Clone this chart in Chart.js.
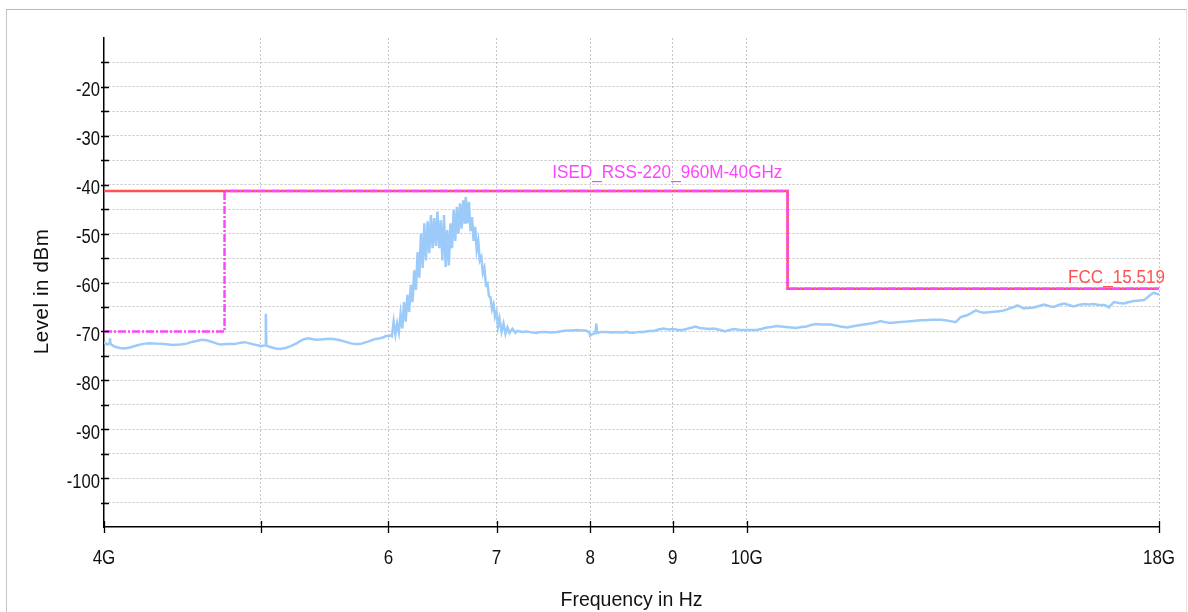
<!DOCTYPE html>
<html>
<head>
<meta charset="utf-8">
<script src="https://cdn.jsdelivr.net/npm/chart.js@4.4.1/dist/chart.umd.min.js"></script>
<style>
  html, body { margin: 0; padding: 0; background: #fff; overflow: hidden; }
  #frame { position: absolute; left: 6px; top: 9px; width: 1179px; height: 700px;
           border-top: 1px solid #b8b8b8; border-left: 1px solid #c4c4c4; border-right: 1px solid #e4e4e4; }
  #wrap { position: absolute; left: 0; top: 0; width: 1188px; height: 630px; }
</style>
</head>
<body>
<div id="frame"></div>
<div id="wrap"><canvas id="spectrum" width="1188" height="630"></canvas></div>
<script>
// axis ticks
const freqTicks = [4, 5, 6, 7, 8, 9, 10, 18];
const freqTickLabels = ['4G', '', '6', '7', '8', '9', '10G', '18G'];
const levelLabelValues = [-100, -90, -80, -70, -60, -50, -40, -30, -20];
const xTitle = 'Frequency in Hz';
const yTitle = 'Level in dBm';

// limit lines (GHz, dBm)
const fccLimit = [[4, -41.3], [10.6, -41.3], [10.6, -61.3], [18, -61.3]];
const isedLimit = [[4, -70], [4.75, -70], [4.75, -41.3], [10.6, -41.3], [10.6, -61.3], [18, -61.3]];
const limitNames = ['ISED_RSS-220_960M-40GHz', 'FCC_15.519'];
const limitNameFreqs = [8.93, 18];
const limitNameLevels = [-41.3, -61.3];

// measured trace, 4 - 6 GHz
const traceLow = [
  [4.00,-72.2],[4.01,-72.5],[4.02,-72.7],[4.03,-72.4],[4.034,-71.4],[4.038,-72.6],[4.06,-73.1],[4.09,-73.4],
  [4.12,-73.5],[4.15,-73.3],[4.18,-73.0],[4.21,-72.7],[4.24,-72.5],[4.27,-72.4],[4.31,-72.5],[4.36,-72.6],
  [4.41,-72.8],[4.46,-72.7],[4.50,-72.5],[4.54,-72.1],[4.60,-71.7],[4.63,-71.8],[4.66,-72.1],[4.70,-72.5],
  [4.72,-72.7],[4.77,-72.6],[4.82,-72.6],[4.86,-72.3],[4.89,-72.2],[4.93,-72.5],[4.97,-72.8],[5.00,-73.0],
  [5.035,-72.9],[5.038,-66.4],[5.042,-72.9],[5.07,-73.2],[5.11,-73.5],[5.14,-73.6],[5.18,-73.4],[5.22,-73.0],
  [5.26,-72.5],[5.29,-72.0],[5.32,-71.6],[5.35,-71.4],[5.39,-71.6],[5.42,-71.7],[5.47,-71.6],[5.52,-71.5],
  [5.56,-71.6],[5.60,-71.8],[5.64,-72.1],[5.68,-72.4],[5.72,-72.6],[5.76,-72.6],[5.80,-72.3],[5.84,-72.0],
  [5.88,-71.6],[5.93,-71.4],[5.96,-71.2],[5.98,-70.9]
];

// measured trace, 6 - 7.2 GHz (emission)
const tracePeak = [
  [6.000,-71.0],[6.015,-70.8],[6.030,-71.0],[6.045,-68.0],[6.060,-70.6],[6.075,-68.4],[6.090,-70.2],
  [6.105,-66.4],[6.120,-69.4],[6.135,-64.0],[6.150,-68.0],[6.165,-62.5],[6.180,-66.0],[6.195,-60.5],
  [6.210,-64.0],[6.225,-57.5],[6.240,-61.5],[6.255,-53.8],[6.270,-59.0],[6.285,-50.0],[6.300,-57.0],
  [6.315,-47.9],[6.330,-55.5],[6.345,-47.5],[6.360,-54.0],[6.375,-46.2],[6.390,-53.0],[6.405,-46.8],
  [6.420,-52.5],[6.435,-45.5],[6.450,-53.0],[6.465,-47.3],[6.480,-55.5],[6.495,-46.2],[6.510,-56.8],
  [6.525,-49.3],[6.540,-56.5],[6.555,-47.9],[6.570,-53.0],[6.585,-45.2],[6.600,-51.5],[6.615,-44.5],
  [6.630,-50.0],[6.645,-43.8],[6.660,-49.0],[6.675,-43.2],[6.690,-48.0],[6.700,-42.5],[6.715,-47.9],
  [6.730,-43.5],[6.745,-49.5],[6.760,-46.6],[6.775,-51.5],[6.790,-48.6],[6.805,-53.4],[6.820,-51.5],
  [6.835,-55.5],[6.850,-54.8],[6.865,-58.0],[6.880,-57.0],[6.895,-60.5],[6.910,-60.2],[6.925,-62.8],
  [6.940,-63.0],[6.955,-65.5],[6.970,-64.5],[6.985,-67.0],[7.000,-66.0],[7.015,-69.1],[7.030,-67.4],
  [7.050,-70.1],[7.070,-68.4],[7.090,-70.5],[7.110,-69.2],[7.130,-70.3],[7.160,-69.5],[7.190,-70.3]
];

// measured trace, 7.2 - 18 GHz
const traceHigh = [
  [7.21,-69.9],[7.26,-70.1],[7.31,-70.0],[7.36,-70.2],[7.41,-70.3],[7.46,-70.1],[7.51,-70.1],[7.57,-70.2],
  [7.63,-70.1],[7.69,-69.9],[7.74,-69.8],[7.80,-69.8],[7.85,-69.7],[7.90,-69.8],[7.95,-69.8],[7.99,-70.2],
  [8.00,-70.9],[8.02,-70.6],[8.06,-70.3],[8.07,-68.4],[8.08,-70.3],[8.13,-70.1],[8.19,-70.1],[8.25,-70.2],
  [8.31,-70.1],[8.37,-70.2],[8.43,-70.1],[8.47,-70.3],[8.51,-70.3],[8.57,-70.1],[8.63,-70.1],[8.70,-69.9],
  [8.76,-69.9],[8.82,-69.6],[8.88,-69.4],[8.94,-69.6],[9.00,-69.5],[9.07,-69.7],[9.13,-69.7],[9.20,-69.4],
  [9.30,-69.0],[9.35,-69.3],[9.41,-69.4],[9.48,-69.5],[9.54,-69.4],[9.63,-69.7],[9.70,-70.0],[9.73,-69.8],
  [9.82,-69.5],[9.91,-69.7],[10.0,-69.7],[10.07,-69.7],[10.14,-69.7],[10.21,-69.5],[10.29,-69.2],[10.36,-69.1],
  [10.43,-68.9],[10.50,-69.0],[10.58,-69.1],[10.65,-69.2],[10.73,-69.3],[10.81,-69.1],[10.89,-69.0],[10.96,-68.7],
  [11.04,-68.5],[11.11,-68.6],[11.19,-68.6],[11.27,-68.6],[11.35,-68.8],[11.43,-69.0],[11.54,-69.2],[11.62,-69.0],
  [11.71,-68.8],[11.82,-68.6],[11.93,-68.4],[12.02,-68.2],[12.10,-67.9],[12.18,-68.1],[12.27,-68.3],[12.36,-68.2],
  [12.45,-68.1],[12.54,-68.0],[12.63,-67.9],[12.72,-67.8],[12.81,-67.7],[12.90,-67.7],[13.00,-67.6],[13.09,-67.6],
  [13.18,-67.6],[13.27,-67.7],[13.37,-67.9],[13.47,-68.1],[13.52,-67.6],[13.56,-67.1],[13.62,-66.9],[13.69,-66.7],
  [13.78,-66.2],[13.86,-65.7],[13.94,-66.0],[14.02,-66.2],[14.12,-66.1],[14.22,-66.0],[14.33,-65.9],[14.43,-65.7],
  [14.50,-65.5],[14.57,-65.2],[14.64,-65.0],[14.71,-64.7],[14.78,-65.0],[14.84,-65.3],[14.95,-65.2],[15.06,-65.1],
  [15.17,-64.8],[15.28,-64.5],[15.38,-64.8],[15.49,-65.0],[15.60,-64.6],[15.72,-64.3],[15.83,-64.6],[15.94,-64.9],
  [16.05,-64.6],[16.17,-64.4],[16.28,-64.5],[16.40,-64.4],[16.52,-64.6],[16.64,-64.6],[16.70,-64.8],[16.76,-65.1],
  [16.82,-64.5],[16.88,-64.0],[17.00,-64.2],[17.12,-64.3],[17.25,-64.0],[17.37,-63.8],[17.50,-63.7],[17.62,-63.6],
  [17.68,-63.2],[17.74,-62.8],[17.80,-62.4],[17.87,-62.1],[17.93,-62.3],[18.00,-62.4]
];

const toPoints = arr => arr.map(([x, y]) => ({x: x, y: y}));
const family = "'Liberation Sans', Arial, sans-serif";

// the original uses a condensed face, so text is squeezed horizontally
function squeezedText(ctx, text, x, y, o) {
  ctx.save();
  ctx.translate(x, y);
  if (o.rotate) ctx.rotate(o.rotate);
  ctx.scale(o.squeeze || 1, 1);
  ctx.font = o.size + 'px ' + family;
  if (o.spacing) ctx.letterSpacing = o.spacing + 'px';
  ctx.fillStyle = o.color || '#111';
  ctx.textAlign = o.align || 'center';
  ctx.textBaseline = 'alphabetic';
  ctx.fillText(text, 0, 0);
  ctx.restore();
}

// tick marks crossing the axes, tick labels and axis titles
const axisDecor = {
  id: 'axisDecor',
  afterDraw(chart) {
    const {ctx, chartArea: a, scales: {x, y}} = chart;
    ctx.save();
    ctx.strokeStyle = '#000';
    ctx.lineWidth = 1.3;
    ctx.beginPath();
    y.ticks.forEach(t => {
      if (t.value <= -110 || t.value >= -10) return;
      const py = Math.round(y.getPixelForValue(t.value)) + 0.5;
      ctx.moveTo(a.left - 3, py);
      ctx.lineTo(a.left + 5, py);
    });
    freqTicks.forEach(v => {
      const px = Math.round(x.getPixelForValue(v)) + 0.5;
      ctx.moveTo(px, a.bottom - 6);
      ctx.lineTo(px, a.bottom + 6);
    });
    ctx.stroke();
    ctx.restore();

    freqTicks.forEach((v, i) => {
      squeezedText(ctx, freqTickLabels[i], x.getPixelForValue(v), a.bottom + 37, {size: 20, squeeze: 0.85});
    });
    levelLabelValues.forEach(v => {
      squeezedText(ctx, String(v), a.left - 4, y.getPixelForValue(v) + 9.5, {size: 20, squeeze: 0.83, align: 'right'});
    });
    squeezedText(ctx, xTitle, (a.left + a.right) / 2, a.bottom + 79, {size: 19.5});
    squeezedText(ctx, yTitle, 48, (a.top + a.bottom) / 2 + 9, {size: 20.5, spacing: 0.6, rotate: -Math.PI / 2});
  }
};

// names written above the limit lines
const limitText = {
  id: 'limitText',
  afterDatasetsDraw(chart) {
    const {ctx, scales: {x, y}} = chart;
    limitNames.forEach((name, i) => {
      const px = x.getPixelForValue(limitNameFreqs[i]);
      const py = y.getPixelForValue(limitNameLevels[i]);
      const color = chart.data.datasets[i].borderColor;
      if (i === 0) {
        squeezedText(ctx, name, px, py - 13, {size: 19, squeeze: 0.9, color: color});
      } else {
        squeezedText(ctx, name, px + 6, py - 6, {size: 19, squeeze: 0.9, color: color, align: 'right'});
      }
    });
  }
};

new Chart(document.getElementById('spectrum'), {
  type: 'line',
  data: {
    datasets: [{
      label: limitNames[0],
      data: toPoints(isedLimit),
      borderColor: '#ff44ff',
      borderWidth: 2.5,
      borderDash: [8, 2, 2, 2],
      pointRadius: 0,
      fill: false,
      order: 0
    }, {
      label: limitNames[1],
      data: toPoints(fccLimit),
      borderColor: '#ff5252',
      borderWidth: 2.5,
      pointRadius: 0,
      fill: false,
      order: 1
    }, {
      label: 'Measurement',
      data: toPoints(traceLow.concat(tracePeak, traceHigh)),
      borderColor: '#9ccbfa',
      borderWidth: 2.5,
      pointRadius: 0,
      fill: false,
      order: 2
    }]
  },
  options: {
    responsive: false,
    animation: false,
    devicePixelRatio: 1,
    layout: { padding: { left: 25, right: 29, top: 38, bottom: 10 } },
    plugins: {
      legend: { display: false },
      tooltip: { enabled: false }
    },
    scales: {
      x: {
        type: 'logarithmic',
        min: 4,
        max: 18,
        afterBuildTicks: s => { s.ticks = freqTicks.map(v => ({value: v})); },
        afterFit: s => { s.height = 630 - 10 - 527; s.paddingLeft = 0; s.paddingRight = 0; },
        ticks: { display: false, autoSkip: false },
        grid: {
          drawTicks: false,
          color: c => (c.tick && c.tick.value === 4) ? 'rgba(0,0,0,0)' : '#c4c4c4',
          lineWidth: 1
        },
        border: { display: true, color: '#000', width: 1.5, dash: [2, 2] }
      },
      y: {
        type: 'linear',
        min: -110,
        max: -10,
        afterFit: s => { s.width = 104 - 25; s.paddingTop = 0; s.paddingBottom = 0; },
        ticks: { display: false, stepSize: 5 },
        grid: {
          drawTicks: false,
          color: c => (c.tick && (c.tick.value === -10 || c.tick.value === -110)) ? 'rgba(0,0,0,0)' : '#c4c4c4',
          lineWidth: 1
        },
        border: { display: true, color: '#000', width: 1.5, dash: [2, 2] }
      }
    }
  },
  plugins: [axisDecor, limitText]
});
</script>
</body>
</html>
